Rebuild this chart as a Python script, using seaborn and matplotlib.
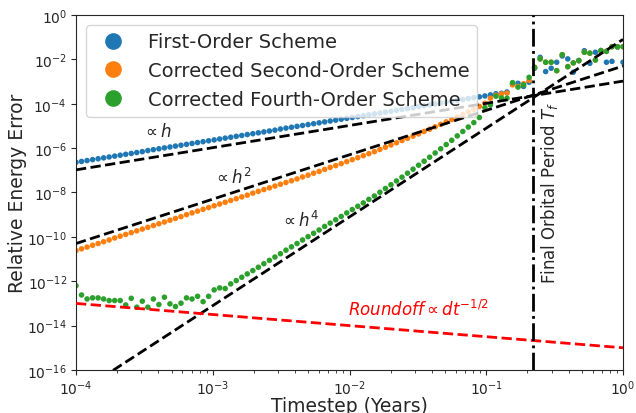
import numpy as np
import pandas as pd
import matplotlib

matplotlib.use("Agg")
import matplotlib.pyplot as plt
import seaborn as sns
from matplotlib.ticker import NullLocator

sns.set_style("ticks")
plt.rcParams["font.family"] = ["DejaVu Sans"]
plt.rcParams.update({
    "xtick.major.size": 3.5, "ytick.major.size": 3.5,
    "xtick.minor.size": 2.0, "xtick.major.pad": 2.5, "ytick.major.pad": 3.0,
})
fontsize = 13.5

# timestep sweep (100 log-spaced runs, 1e-4 .. 1 years)
timestep = np.logspace(-4, 0, 100)

# log10 of relative energy error
log_err_first = [
    -6.64, -6.60, -6.56, -6.52, -6.48, -6.44, -6.40, -6.36, -6.32, -6.28,
    -6.24, -6.20, -6.16, -6.11, -6.07, -6.03, -5.99, -5.95, -5.91, -5.87,
    -5.83, -5.79, -5.75, -5.71, -5.67, -5.63, -5.59, -5.55, -5.51, -5.47,
    -5.43, -5.39, -5.35, -5.31, -5.27, -5.23, -5.19, -5.14, -5.10, -5.06,
    -5.02, -4.98, -4.94, -4.90, -4.86, -4.82, -4.78, -4.74, -4.70, -4.66,
    -4.62, -4.58, -4.54, -4.50, -4.46, -4.42, -4.38, -4.34, -4.30, -4.26,
    -4.22, -4.18, -4.13, -4.09, -4.05, -4.01, -3.97, -3.93, -3.89, -3.85,
    -3.81, -3.77, -3.73, -3.69, -3.65, -3.60, -3.55, -3.53, -3.47, -3.10,
    -3.08, -3.22, -3.03, -2.40, -1.91, -2.55, -2.40, -2.13, -1.85, -1.98,
    -2.58, -2.05, -1.61, -2.18, -1.68, -1.60, -2.13, -2.09, -1.45, -2.13,
]
log_err_second = [
    -10.62, -10.54, -10.46, -10.38, -10.30, -10.22, -10.14, -10.05, -9.97, -9.89,
    -9.81, -9.73, -9.65, -9.57, -9.49, -9.41, -9.33, -9.25, -9.17, -9.09,
    -9.00, -8.92, -8.84, -8.76, -8.68, -8.60, -8.52, -8.44, -8.36, -8.28,
    -8.20, -8.12, -8.03, -7.95, -7.87, -7.79, -7.71, -7.63, -7.55, -7.47,
    -7.39, -7.30, -7.22, -7.13, -7.05, -6.96, -6.87, -6.79, -6.70, -6.61,
    -6.52, -6.43, -6.34, -6.25, -6.16, -6.06, -5.96, -5.86, -5.76, -5.66,
    -5.56, -5.46, -5.36, -5.25, -5.15, -5.04, -4.93, -4.82, -4.71, -4.60,
    -4.49, -4.37, -4.25, -4.12, -3.98, -3.75, -3.62, -3.56, -3.52, -3.15,
    -3.22, -3.10, -2.95, -2.36, -1.98, -2.13, -2.13, -2.51, -1.79, -2.33,
    -2.16, -2.06, -1.68, -1.72, -2.03, -1.61, -1.64, -1.43, -1.43, -1.43,
]
log_err_fourth = [
    -12.20, -12.62, -12.80, -12.75, -12.75, -12.80, -12.87, -12.87, -12.87, -13.07,
    -12.77, -13.17, -12.90, -13.17, -12.80, -13.05, -12.72, -13.02, -13.14, -12.99,
    -12.75, -12.80, -12.68, -12.92, -12.68, -12.39, -12.30, -12.33, -12.12, -11.97,
    -11.82, -11.67, -11.52, -11.37, -11.21, -11.06, -10.91, -10.76, -10.60, -10.45,
    -10.30, -10.14, -9.99, -9.84, -9.69, -9.53, -9.38, -9.23, -9.08, -8.92,
    -8.77, -8.62, -8.47, -8.31, -8.16, -7.99, -7.82, -7.65, -7.48, -7.31,
    -7.13, -6.95, -6.77, -6.59, -6.41, -6.22, -6.03, -5.84, -5.65, -5.45,
    -5.25, -5.05, -4.85, -4.62, -4.18, -4.05, -3.66, -3.74, -3.75, -3.05,
    -3.25, -3.15, -2.81, -2.36, -1.98, -2.13, -2.13, -2.51, -1.79, -2.33,
    -2.16, -2.06, -1.68, -1.72, -2.03, -1.61, -1.64, -1.43, -1.43, -1.43,
]
schemes = [
    "First-Order Scheme",
    "Corrected Second-Order Scheme",
    "Corrected Fourth-Order Scheme",
]
colors = ["#1f77b4", "#ff7f0e", "#2ca02c"]

# reference power laws: err = coef * h**power
ref_powers = [1, 2, 4]
ref_log_coef = [-2.98, -2.30, -1.10]
ref_labels = [r"$\propto h$", r"$\propto h^2$", r"$\propto h^4$"]
ref_label_pos = [(3.9e-4, 6.0e-6), (1.4e-3, 5.0e-8), (4.3e-3, 5.8e-10)]

roundoff_log_coef = -15.0
roundoff_power = -0.5
t_final = 0.22
h_range = np.array([1e-4, 1.0])

data = pd.DataFrame(
    {
        "timestep": np.concatenate([timestep] * 3),
        "error": 10.0 ** np.concatenate([log_err_first, log_err_second, log_err_fourth]),
        "scheme": np.repeat(schemes, len(timestep)),
    }
)

fig, ax = plt.subplots(figsize=(6.36, 4.14), dpi=100)
fig.subplots_adjust(left=0.1195, right=0.9796, top=0.9614, bottom=0.1039)

sns.scatterplot(
    data=data, x="timestep", y="error", hue="scheme", hue_order=schemes,
    palette=colors, s=16, linewidth=0, ax=ax, zorder=2,
)
ax.set_xscale("log")
ax.set_yscale("log")

for p, c, lab, pos in zip(ref_powers, ref_log_coef, ref_labels, ref_label_pos):
    ax.plot(h_range, 10.0 ** c * h_range ** p, "k--", lw=2, zorder=3)
    ax.text(pos[0], pos[1], lab, fontsize=12, ha="center", va="center")

ax.plot(h_range, 10.0 ** roundoff_log_coef * h_range ** roundoff_power,
        "--", color="red", lw=2, zorder=3)
ax.text(3.2e-2, 5.6e-14, r"$Roundoff \propto dt^{-1/2}$", color="red",
        fontsize=12, ha="center", va="center")

ax.axvline(t_final, color="k", ls="-.", lw=2, zorder=3)
ax.text(0.245, 8e-13, r"Final Orbital Period $T_f$", rotation=90,
        fontsize=12, ha="left", va="bottom")

ax.set_xlim(1e-4, 1)
ax.set_ylim(1e-16, 1)
ax.set_yticks([10.0 ** k for k in range(-16, 1, 2)])
ax.yaxis.set_minor_locator(NullLocator())
ax.tick_params(labelsize=10)
ax.set_xlabel("Timestep (Years)", fontsize=fontsize, labelpad=-1)
ax.set_ylabel("Relative Energy Error", fontsize=fontsize, labelpad=0)

sns.move_legend(ax, "upper left", title=None, fontsize=14, markerscale=3,
                framealpha=0.8)

plt.savefig("out.png", dpi=100)
